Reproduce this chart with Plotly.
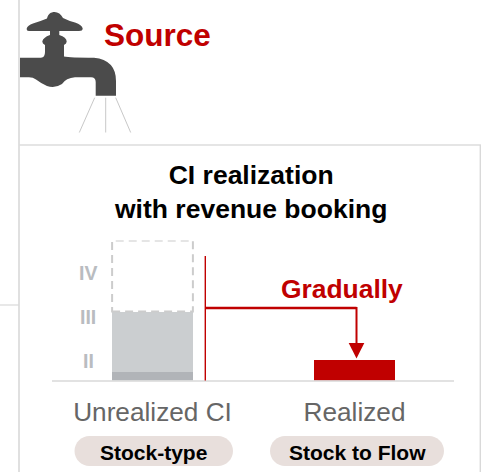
import plotly.graph_objects as go

categories = ["Unrealized CI", "Realized"]
base_layer = [9, None]
unrealized = [60, None]
pending = [71, None]
realized = [None, 21]
pill_labels = ["Stock-type", "Stock to Flow"]
level_labels = ["II", "III", "IV"]
level_values = [20, 64, 108]

W, H = 481, 472
BASE_PY, TOP_PY = 380.5, 240.5
RED = "#c00000"
FONT = "Liberation Sans"

fig = go.Figure()
fig.add_bar(x=categories, y=base_layer, marker=dict(color="#b1b4b8", line_width=0), width=0.4)
fig.add_bar(x=categories, y=unrealized, marker=dict(color="#cbced0", line_width=0), width=0.4)
fig.add_bar(x=categories, y=realized, marker=dict(color=RED, line_width=0), width=0.4)

def line(x0, y0, x1, y1, color, width, dash="solid"):
    return dict(type="line", xref="x2", yref="y2", x0=x0, y0=y0, x1=x1, y1=y1,
                line=dict(color=color, width=width, dash=dash))

def pill(x0, x1, y0, y1):
    r = (y1 - y0) / 2
    k = r * 0.552
    ym = y0 + r
    return dict(type="path", xref="x2", yref="y2", fillcolor="#e8dfdc", line_width=0,
                path=(f"M{x0 + r},{y0} L{x1 - r},{y0} "
                      f"C{x1 - r + k},{y0} {x1},{ym - k} {x1},{ym} "
                      f"C{x1},{ym + k} {x1 - r + k},{y1} {x1 - r},{y1} "
                      f"L{x0 + r},{y1} "
                      f"C{x0 + r - k},{y1} {x0},{ym + k} {x0},{ym} "
                      f"C{x0},{ym - k} {x0 + r - k},{y0} {x0 + r},{y0} Z"))

faucet = ("M20,57.7 L41,57.7 Q45,57.5 45,52 L45,45 Q42.3,43.5 42.3,41.5 Q43,37.5 50,35 L50,31 "
          "L29,31 Q26.5,31 26.7,28.5 Q27.5,25.5 33,23.5 Q41,21 47,18.5 "
          "C48,14 51,12 54.5,12 C58,12 61,14 63,18 "
          "Q69,21 75,22.5 Q82,25 82.7,28.5 Q82.7,31 79,31 L59.3,31 L59.3,35 Q66.5,37 66.7,41.5 "
          "Q66.7,43.5 64,45 L64,56.5 Q70,57.7 94,57.7 Q116,60 116,81 L116,95.7 L95.7,95.7 L95.7,82 "
          "Q95.7,77.3 91,77.3 L75,77.3 Q66,78 62,84 Q55,88.7 47,86 Q42,84 36,79.5 Q33,77.3 29,77.3 L20,77.3 Z")

shapes = [
    line(19, 0, 19, 472, "#d9d9d9", 1.6),
    line(0, 305, 19, 305, "#d9d9d9", 1.2),
    line(19, 145, 481, 145, "#dcdcdc", 1.6),
    line(480.3, 145, 480.3, 472, "#d9d9d9", 1.4),
    dict(type="path", xref="x2", yref="y2", path=faucet, fillcolor="#4b4b4b", line_width=0),
    line(94.7, 97.7, 79.3, 132.5, "#c8c8c8", 1),
    line(105.7, 97.7, 105.7, 132.5, "#c8c8c8", 1),
    line(115.7, 97.7, 130.7, 132.5, "#c8c8c8", 1),
    line(52, 381, 454, 381, "#d9d9d9", 1.6),
    dict(type="rect", xref="x", yref="y", x0=-0.2, x1=0.2,
         y0=base_layer[0] + unrealized[0], y1=base_layer[0] + unrealized[0] + pending[0],
         line=dict(color="#cccccc", width=2, dash="8px,5px"), fillcolor="rgba(0,0,0,0)"),
    line(205.3, 256, 205.3, 380.5, RED, 1.4),
    line(205.3, 308, 356.5, 308, RED, 2.4),
    line(356.5, 307, 356.5, 345, RED, 2),
    dict(type="path", xref="x2", yref="y2", path="M348.7,343 L364.3,343 L356.5,358.5 Z", fillcolor=RED, line_width=0),
    pill(74.5, 233, 436, 466),
    pill(270, 444, 436, 466),
]

def text(s, x, y, size, color, bold=True):
    return dict(xref="x2", yref="y2", x=x, y=y, text=f"<b>{s}</b>" if bold else s, showarrow=False,
                xanchor="center", yanchor="middle", font=dict(family=FONT, size=size, color=color))

annots = [
    text("Source", 157, 34.5, 31.5, RED),
    text("CI realization<br>with revenue booking", 250, 192, 26.5, "#000000"),
    text("Gradually", 341.5, 289, 26.4, RED),
    text(pill_labels[0], 153.5, 452, 21, "#000000"),
    text(pill_labels[1], 357, 452, 21, "#000000"),
]
for lab, v in zip(level_labels, level_values):
    annots.append(dict(xref="x2", yref="y", x=88, y=v, text=f"<b>{lab}</b>", showarrow=False,
                       xanchor="center", yanchor="middle",
                       font=dict(family=FONT, size=19.5, color="#b9bcc0")))

fig.update_layout(
    width=W, height=H, autosize=False, margin=dict(l=0, r=0, t=0, b=0),
    paper_bgcolor="white", plot_bgcolor="rgba(0,0,0,0)", barmode="stack", showlegend=False,
    shapes=shapes, annotations=annots, font=dict(family=FONT),
    xaxis=dict(domain=[51.5 / W, 455.5 / W], type="category", categoryorder="array", categoryarray=categories,
               range=[-0.5, 1.5], anchor="y", showgrid=False, zeroline=False, showline=False,
               ticks="outside", ticklen=8, tickcolor="rgba(0,0,0,0)",
               tickfont=dict(family=FONT, size=26.2, color="#666666")),
    yaxis=dict(domain=[(H - BASE_PY) / H, (H - TOP_PY) / H], range=[0, BASE_PY - TOP_PY], anchor="x",
               visible=False, fixedrange=True),
    xaxis2=dict(domain=[0, 1], range=[0, W], anchor="y2", visible=False, fixedrange=True),
    yaxis2=dict(domain=[0, 1], range=[H, 0], anchor="x2", visible=False, fixedrange=True),
)
fig.add_scatter(x=[0], y=[0], xaxis="x2", yaxis="y2", mode="markers", marker=dict(opacity=0), hoverinfo="skip")

fig.write_html("out.html", config=dict(displayModeBar=False),
               post_script="document.body.style.margin='0';")
